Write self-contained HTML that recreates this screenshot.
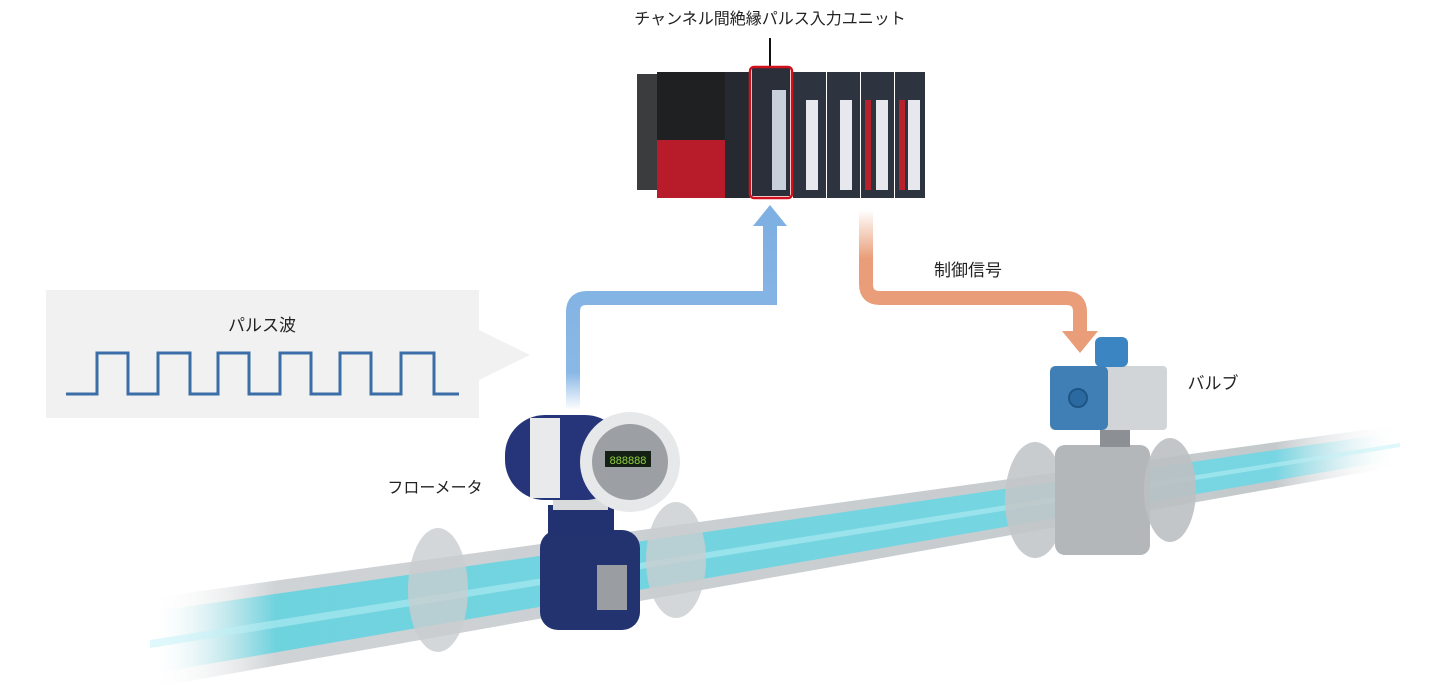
<!DOCTYPE html>
<html><head><meta charset="utf-8"><style>
html,body{margin:0;padding:0;background:#fff}
svg{display:block}
text{font-family:"Liberation Sans","Noto Sans CJK JP",sans-serif;fill:#222}
</style></head><body>
<svg width="1440" height="700" viewBox="0 0 1440 700" xmlns="http://www.w3.org/2000/svg">
<defs>
<linearGradient id="pipeg" x1="0" y1="0" x2="1" y2="0">
<stop offset="0" stop-color="#fff" stop-opacity="0"/>
<stop offset="0.1" stop-color="#cfd3d6"/>
<stop offset="0.9" stop-color="#c4c9cc"/>
<stop offset="1" stop-color="#fff" stop-opacity="0"/>
</linearGradient>
<linearGradient id="waterg" x1="0" y1="0" x2="1" y2="0">
<stop offset="0" stop-color="#fff" stop-opacity="0"/>
<stop offset="0.1" stop-color="#5ed3e0"/>
<stop offset="0.9" stop-color="#6ad8e6"/>
<stop offset="1" stop-color="#fff" stop-opacity="0"/>
</linearGradient>
<linearGradient id="blueA" x1="0" y1="1" x2="0" y2="0">
<stop offset="0" stop-color="#8ab8e6" stop-opacity="0"/>
<stop offset="0.2" stop-color="#8ab8e6"/>
<stop offset="1" stop-color="#7fb0e2"/>
</linearGradient>
<linearGradient id="orA" x1="0" y1="0" x2="0" y2="1">
<stop offset="0" stop-color="#e99d78" stop-opacity="0"/>
<stop offset="0.4" stop-color="#e99d78"/>
<stop offset="1" stop-color="#e99d78"/>
</linearGradient>
</defs>

<text x="770" y="24" font-size="16" text-anchor="middle">チャンネル間絶縁パルス入力ユニット</text>
<line x1="770" y1="38" x2="770" y2="66" stroke="#111" stroke-width="2"/>

<!-- PLC -->
<rect x="637" y="74" width="20" height="116" fill="#3a3c3e"/>
<rect x="657" y="72" width="68" height="126" fill="#1f2022"/>
<rect x="657" y="140" width="68" height="58" fill="#b81c2a"/>
<rect x="725" y="72" width="25" height="126" fill="#262a30"/>
<rect x="752" y="68" width="38" height="128" fill="#2a2f3a"/>
<rect x="772" y="90" width="14" height="100" fill="#c8d0dc"/>
<g fill="#2e3340">
<rect x="793" y="72" width="33" height="126"/>
<rect x="827" y="72" width="33" height="126"/>
<rect x="861" y="72" width="33" height="126"/>
<rect x="895" y="72" width="30" height="126"/>
</g>
<g fill="#e6e8ee">
<rect x="806" y="100" width="12" height="90"/>
<rect x="840" y="100" width="12" height="90"/>
<rect x="876" y="100" width="12" height="90"/>
<rect x="908" y="100" width="12" height="90"/>
</g>
<rect x="865" y="100" width="6" height="90" fill="#b8202c"/>
<rect x="899" y="100" width="6" height="90" fill="#b8202c"/>
<rect x="750" y="67" width="42" height="131" rx="4" fill="none" stroke="#d0101c" stroke-width="2.5"/>

<!-- blue arrow -->
<path d="M573 410 V312 Q573 298 587 298 H770 V225" fill="none" stroke="url(#blueA)" stroke-width="14"/>
<polygon points="753,226 787,226 770,205" fill="#7fb0e2"/>

<!-- orange arrow -->
<path d="M866 210 V284 Q866 298 880 298 H1066 Q1080 298 1080 312 V332" fill="none" stroke="url(#orA)" stroke-width="14"/>
<polygon points="1062,331 1098,331 1080,353" fill="#e99d78"/>
<text x="968" y="276" font-size="17" text-anchor="middle">制御信号</text>

<!-- callout -->
<rect x="46" y="290" width="433" height="128" fill="#f1f1f1"/>
<polygon points="479,330 530,355 479,380" fill="#f1f1f1"/>
<text x="262" y="331" font-size="17" text-anchor="middle">パルス波</text>
<polyline points="66,394 97,394 97,353 128,353 128,394 158,394 158,353 190,353 190,394 218,394 218,353 249,353 249,394 280,394 280,353 311,353 311,394 340,394 340,353 371,353 371,394 401,394 401,353 434,353 434,394 459,394" fill="none" stroke="#3b6ea8" stroke-width="3"/>

<!-- pipe -->
<polygon points="150,598 1400,425 1400,466 150,688" fill="url(#pipeg)"/>
<polygon points="150,612 1400,432 1400,459 150,674" fill="url(#waterg)" opacity="0.85"/>
<polygon points="150,640 1400,443 1400,447 150,648" fill="#bff2f8" opacity="0.5"/>

<!-- flanges flowmeter -->
<ellipse cx="438" cy="590" rx="30" ry="62" fill="#c9cdd0" opacity="0.8"/>
<ellipse cx="676" cy="560" rx="30" ry="58" fill="#c9cdd0" opacity="0.8"/>
<!-- flowmeter body -->
<rect x="540" y="530" width="100" height="100" rx="18" fill="#233370"/>
<rect x="597" y="565" width="30" height="45" fill="#9a9ea2"/>
<rect x="548" y="505" width="66" height="30" fill="#223170"/>
<rect x="553" y="490" width="55" height="20" fill="#d8dadc"/>
<rect x="505" y="415" width="120" height="85" rx="40" fill="#26357a"/>
<rect x="530" y="418" width="30" height="80" fill="#e8eaec"/>
<circle cx="630" cy="462" r="50" fill="#e6e8ea"/>
<circle cx="630" cy="462" r="38" fill="#9ca0a4"/>
<rect x="605" y="451" width="46" height="16" fill="#152015"/>
<text x="628" y="464" font-size="11" text-anchor="middle" style="fill:#8fd040">888888</text>
<text x="435" y="493" font-size="16" text-anchor="middle">フローメータ</text>

<!-- valve -->
<ellipse cx="1035" cy="500" rx="30" ry="58" fill="#c2c6c9" opacity="0.9"/>
<rect x="1055" y="445" width="95" height="110" rx="10" fill="#b3b7ba"/>
<ellipse cx="1170" cy="490" rx="26" ry="52" fill="#bcc0c3" opacity="0.9"/>
<rect x="1100" y="425" width="30" height="22" fill="#8c9094"/>
<rect x="1050" y="366" width="117" height="64" rx="4" fill="#d2d5d8"/>
<rect x="1050" y="366" width="58" height="64" rx="6" fill="#3f7fb5"/>
<circle cx="1078" cy="398" r="9" fill="#2a6aa0" stroke="#1f5585" stroke-width="2"/>
<rect x="1095" y="337" width="33" height="30" rx="6" fill="#3a85c2"/>
<text x="1213" y="389" font-size="17" text-anchor="middle">バルブ</text>
</svg>
</body></html>
